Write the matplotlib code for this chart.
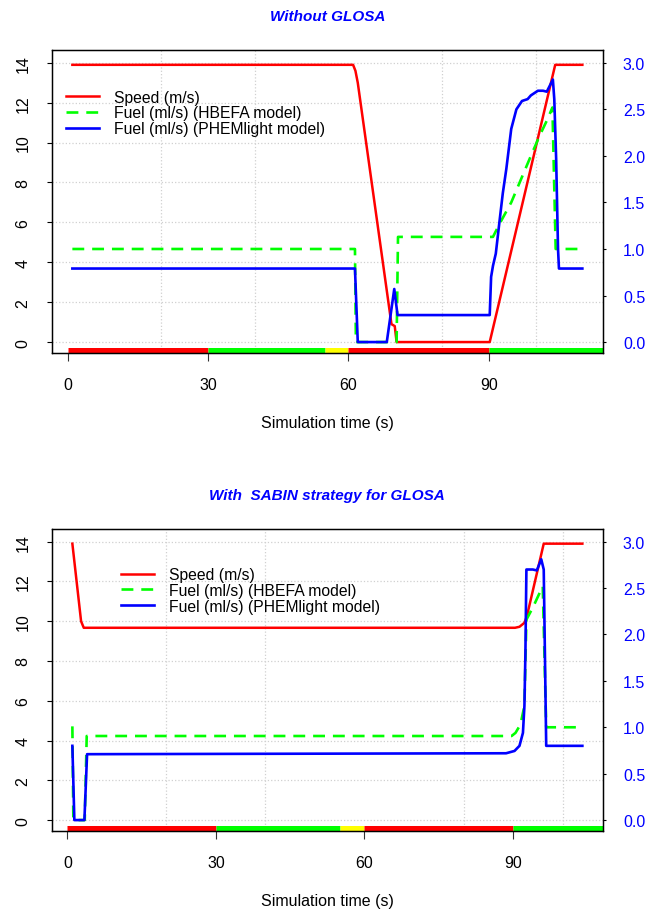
import numpy as np
import matplotlib.pyplot as plt
from matplotlib.ticker import MultipleLocator, FormatStrFormatter

plt.rcParams['font.family'] = ['Liberation Sans', 'DejaVu Sans']

# ---------- data: without GLOSA ----------
t_speed_a = [1, 61, 61.5, 62, 69.2, 69.9, 70.3, 90.2, 104.2, 110]
speed_a = [13.9, 13.9, 13.6, 13.0, 0.9, 0.8, 0.0, 0.0, 13.9, 13.9]

t_hbefa_a = [1, 61.4, 61.6, 70.3, 70.6, 90.9, 92.3, 94.8, 96.9, 99.0, 100.9, 102.6, 103.6, 104.3, 110]
hbefa_a = [1.0, 1.0, 0.0, 0.0, 1.13, 1.13, 1.27, 1.5, 1.75, 2.0, 2.22, 2.4, 2.52, 1.0, 1.0]

t_phem_a = [1, 61.4, 62.0, 68.2, 69.8, 70.5, 90.2, 90.5, 90.9, 91.5, 92.3, 93.0, 93.75, 94.8,
            95.9, 97.1, 98.3, 99.0, 100.5, 101.6, 102.4, 103.1, 103.7, 104.0, 104.4, 104.8, 105.0, 110]
phem_a = [0.79, 0.79, 0.0, 0.0, 0.57, 0.29, 0.29, 0.7, 0.82, 0.95, 1.3, 1.6, 1.86, 2.29,
          2.5, 2.59, 2.61, 2.65, 2.70, 2.70, 2.69, 2.76, 2.82, 2.61, 1.97, 1.0, 0.79, 0.79]

# ---------- data: with SABIN strategy ----------
t_speed_b = [1, 2.76, 3.3, 90.4, 91.3, 92.3, 92.8, 96.2, 104]
speed_b = [13.9, 10.0, 9.67, 9.67, 9.72, 9.92, 10.25, 13.9, 13.9]

t_hbefa_b = [1, 1.2, 3.5, 3.9, 89.7, 90.5, 91.5, 92.3, 92.7, 94.0, 96.0, 96.7, 104]
hbefa_b = [1.01, 0.0, 0.0, 0.906, 0.906, 0.94, 1.03, 1.23, 2.16, 2.29, 2.52, 1.0, 1.0]

t_phem_b = [1, 1.4, 3.43, 3.97, 88.6, 90.3, 91.3, 92.0, 92.3, 92.5, 92.7, 94.0, 94.8, 95.7, 96.2, 96.7, 104]
phem_b = [0.8, 0.0, 0.0, 0.71, 0.72, 0.745, 0.80, 0.94, 1.23, 1.80, 2.70, 2.70, 2.69, 2.81, 2.70, 0.80, 0.80]

# traffic light phases (s)
light_start = [0, 30, 55, 60, 90]
light_end = [30, 55, 60, 90, 120]
light_color = ['#ff0000', '#00ff00', '#ffff00', '#ff0000', '#00ff00']

panels = [
    ('Without GLOSA', t_speed_a, speed_a, t_hbefa_a, hbefa_a, t_phem_a, phem_a,
     [0.0785, 0.6118, 0.832, 0.332], (0.025, 0.870)),
    ('With  SABIN strategy for GLOSA', t_speed_b, speed_b, t_hbefa_b, hbefa_b, t_phem_b, phem_b,
     [0.0785, 0.0877, 0.832, 0.331], (0.125, 0.874)),
]

ylim_left = (-0.55, 14.63)
scale = 3.0 / 14.0

fig = plt.figure(figsize=(6.62, 9.12), dpi=100)

for title, ts, sp, th, hb, tp, ph, rect, leg_pos in panels:
    ax = fig.add_axes(rect)
    tmin, tmax = min(ts), max(ts)
    r = tmax - tmin
    ax.set_xlim(tmin - 0.04 * r, tmax + 0.04 * r)
    ax.set_ylim(ylim_left)

    # grid
    ax.xaxis.set_minor_locator(MultipleLocator(20))
    ax.grid(which='minor', axis='x', color='#d0d0d0', linestyle=':', lw=0.9)
    ax.grid(which='major', axis='y', color='#d0d0d0', linestyle=':', lw=0.9)
    ax.set_axisbelow(True)

    l1, = ax.plot(ts, sp, color='#ff0000', lw=1.8, label='Speed (m/s)')
    for s, e, c in zip(light_start, light_end, light_color):
        ax.plot([s, e], [-0.4, -0.4], color=c, lw=3.6, solid_capstyle='butt')

    ax.set_xticks([0, 30, 60, 90])
    ax.set_yticks(np.arange(0, 15, 2))
    ax.tick_params(axis='x', which='major', length=6, width=0.8, pad=11, labelsize=11.5, colors='#333333',
                   labelcolor='black')
    ax.tick_params(axis='x', which='minor', length=0)
    ax.tick_params(axis='y', length=3.6, width=0.8, pad=12, labelsize=11.5)
    for lab in ax.get_yticklabels():
        lab.set_rotation(90)
        lab.set_va('center')
    for sp_ in ax.spines.values():
        sp_.set_linewidth(1.0)
    ax.set_xlabel('Simulation time (s)', fontsize=11.5, labelpad=17)
    ax.set_title(title, fontsize=11, fontweight='bold', style='italic', color='#0000ff', pad=22)

    ax2 = ax.twinx()
    ax2.set_ylim(ylim_left[0] * scale, ylim_left[1] * scale)
    l2, = ax2.plot(th, hb, color='#00ff00', lw=1.9, linestyle=(0, (4.5, 3)),
                   label='Fuel (ml/s) (HBEFA model)')
    l3, = ax2.plot(tp, ph, color='#0000ff', lw=1.9, label='Fuel (ml/s) (PHEMlight model)')
    ax2.set_yticks(np.arange(0, 3.01, 0.5))
    ax2.yaxis.set_major_formatter(FormatStrFormatter('%.1f'))
    ax2.tick_params(axis='y', length=2.5, width=0.8, pad=12, labelsize=11.5, labelcolor='#0000ff')

    ax2.legend(handles=[l1, l2, l3], loc='upper left', bbox_to_anchor=leg_pos, frameon=False,
               fontsize=11.3, borderpad=0, borderaxespad=0, labelspacing=0.05,
               handlelength=2.1, handletextpad=0.95)

fig.savefig('out.png', dpi=100)
